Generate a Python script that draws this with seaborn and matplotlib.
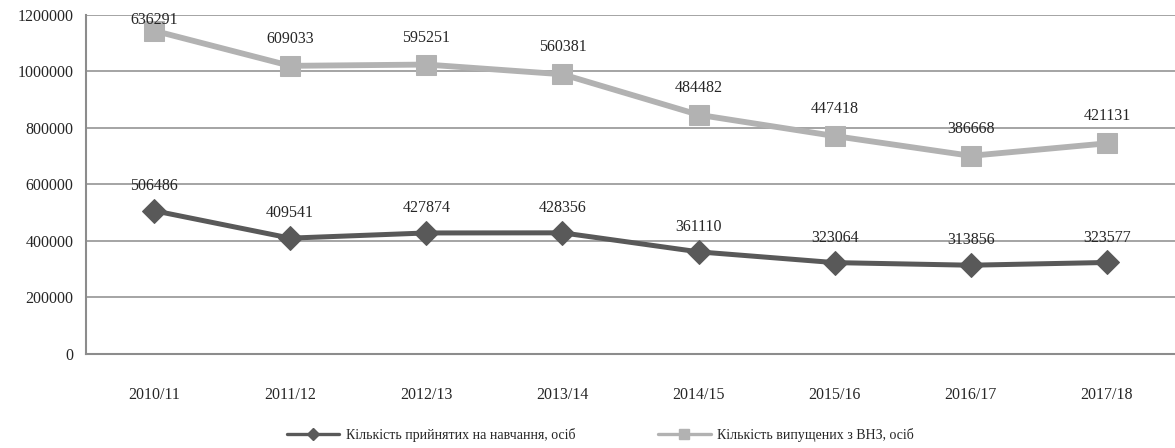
import numpy as np
import pandas as pd
import seaborn as sns
import matplotlib.pyplot as plt

years = ['2010/11', '2011/12', '2012/13', '2013/14', '2014/15', '2015/16', '2016/17', '2017/18']
admitted = [506486, 409541, 427874, 428356, 361110, 323064, 313856, 323577]
graduated = [636291, 609033, 595251, 560381, 484482, 447418, 386668, 421131]

label_admitted = 'Кількість прийнятих на навчання, осіб'
label_graduated = 'Кількість випущених з ВНЗ, осіб'

dark = '#595959'
light = '#b2b2b2'
grid = '#8c8c8c'

sns.set_style('white')
plt.rcParams['font.family'] = ['Liberation Serif', 'DejaVu Serif']

# stacked line chart: second series sits on top of the first
stacked = np.array(admitted) + np.array(graduated)
df = pd.DataFrame({'year': years, 'admitted': admitted, 'stacked': stacked})

fig = plt.figure(figsize=(11.75, 4.48), dpi=100)
ax = fig.add_axes([0.0732, 0.2098, 1 - 0.0732, 0.9676 - 0.2098])

sns.lineplot(data=df, x='year', y='admitted', ax=ax, color=dark,
             marker='D', sort=False, label=label_admitted)
sns.lineplot(data=df, x='year', y='stacked', ax=ax, color=light,
             marker='s', sort=False, label=label_graduated)

# seaborn resets these, so set them on the artists
line_a, line_g = ax.lines[0], ax.lines[1]
line_a.set_linewidth(3.6)
line_a.set_markersize(12)
line_a.set_markeredgecolor(dark)
line_g.set_linewidth(4.2)
line_g.set_markersize(15)
line_g.set_markeredgecolor(light)

for i in range(len(years)):
    ax.text(i, admitted[i] + 88000, str(admitted[i]), ha='center', va='center', fontsize=11.5)
    ax.text(i, min(stacked[i] + 95000, 1180000), str(graduated[i]), ha='center', va='center', fontsize=11.5)

ax.set_ylim(0, 1200000)
ax.set_xlim(-0.5, 7.455)
ax.set_yticks(np.arange(0, 1200001, 200000))
ax.set_yticklabels([str(v) for v in range(0, 1200001, 200000)], fontsize=11.5)
ax.set_xticks(range(len(years)))
ax.set_xticklabels(years, fontsize=11.5)
ax.set_xticks(np.arange(-0.5, 8, 1), minor=True)
ax.tick_params(axis='x', which='major', length=0, pad=24)
ax.tick_params(axis='x', which='minor', length=5, color=grid, width=1.2, direction='out')
ax.tick_params(axis='y', length=5, color=grid, width=1.2, direction='out', pad=4)
ax.set_xlabel('')
ax.set_ylabel('')

ax.grid(axis='y', color=grid, lw=1.1)
ax.set_axisbelow(True)
for side in ['top', 'right']:
    ax.spines[side].set_visible(False)
for side in ['left', 'bottom']:
    ax.spines[side].set_color(grid)
    ax.spines[side].set_linewidth(1.5)

ax.get_legend().remove()
h1 = plt.Line2D([], [], color=dark, lw=2.4, marker='D', markersize=6, markeredgecolor=dark)
h2 = plt.Line2D([], [], color=light, lw=2.4, marker='s', markersize=7, markeredgecolor=light)
fig.legend([h1, h2], [label_admitted, label_graduated], loc='center',
           bbox_to_anchor=(0.511, 0.029), ncol=2, frameon=False, fontsize=10,
           handlelength=3.8, handletextpad=0.5, columnspacing=5.9)

plt.savefig('out.png', dpi=100)
